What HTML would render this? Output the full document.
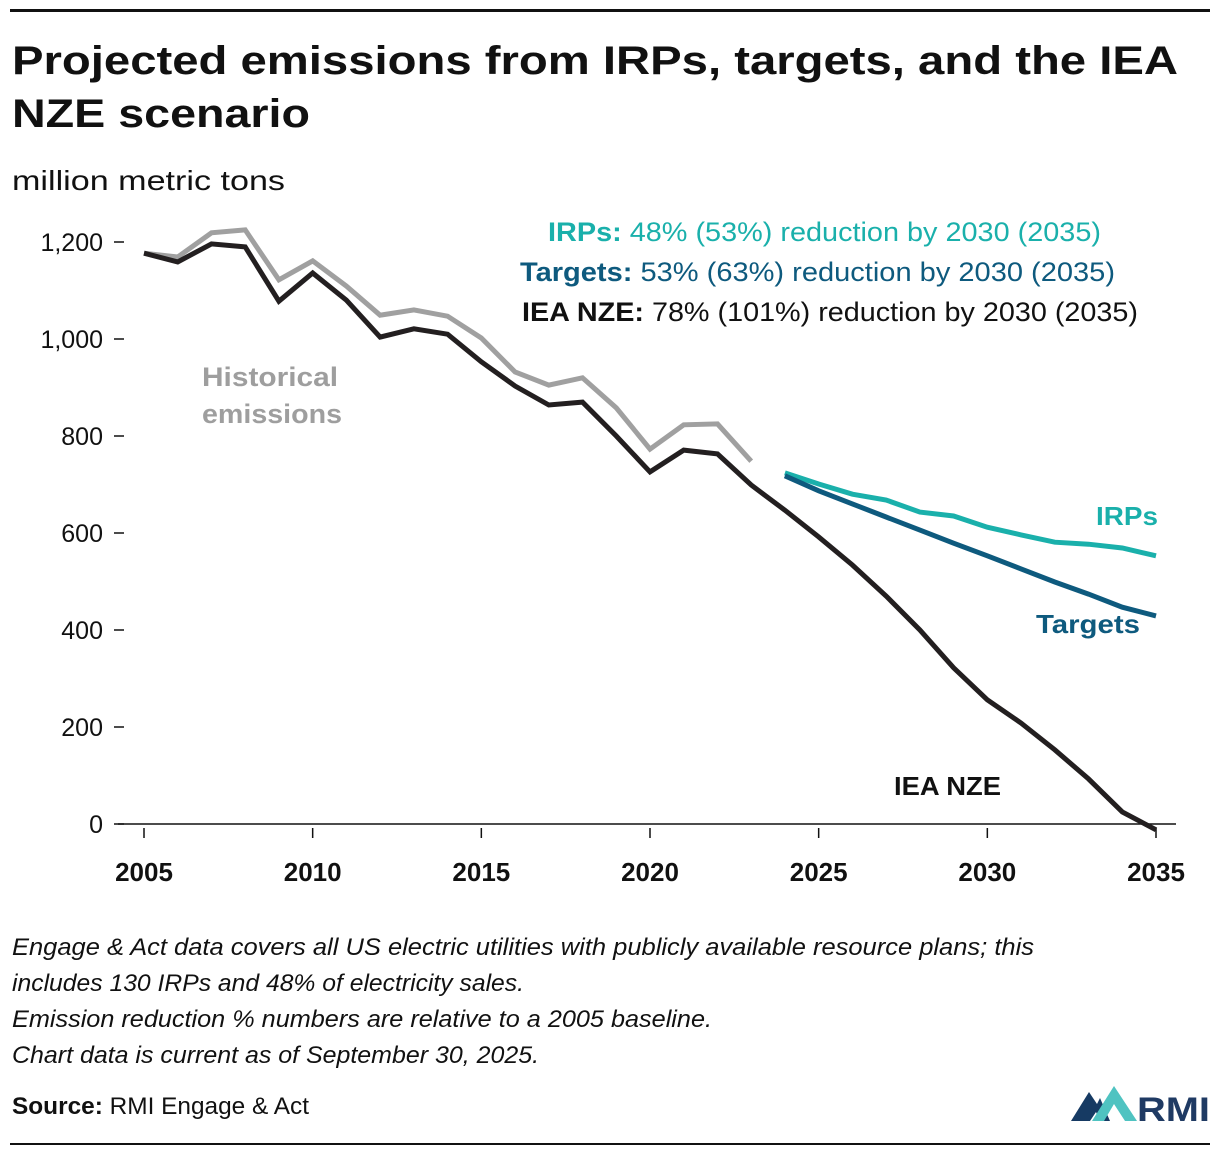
<!DOCTYPE html>
<html><head><meta charset="utf-8"><style>
body{margin:0;background:#fff;}
svg{display:block;font-family:"Liberation Sans",sans-serif;}
</style></head><body>
<svg width="1220" height="1156" viewBox="0 0 1220 1156">
<rect x="10" y="9" width="1200" height="3" fill="#111"/>
<text x="12" y="74" font-size="40" font-weight="bold" fill="#111" textLength="1166" lengthAdjust="spacingAndGlyphs">Projected emissions from IRPs, targets, and the IEA</text>
<text x="12" y="127" font-size="40" font-weight="bold" fill="#111" textLength="298" lengthAdjust="spacingAndGlyphs">NZE scenario</text>
<text x="12" y="190" font-size="28" fill="#111" textLength="273" lengthAdjust="spacingAndGlyphs">million metric tons</text>
<g id="axes"></g>
<g id="series"></g>
<text x="548" y="241" font-size="27" fill="#1ab0ab" textLength="553" lengthAdjust="spacingAndGlyphs"><tspan font-weight="bold">IRPs:</tspan> 48% (53%) reduction by 2030 (2035)</text>
<text x="520" y="281" font-size="27" fill="#0e5a7e" textLength="595" lengthAdjust="spacingAndGlyphs"><tspan font-weight="bold">Targets:</tspan> 53% (63%) reduction by 2030 (2035)</text>
<text x="522" y="321" font-size="27" fill="#111" textLength="616" lengthAdjust="spacingAndGlyphs"><tspan font-weight="bold">IEA NZE:</tspan> 78% (101%) reduction by 2030 (2035)</text>
<text x="202" y="386" font-size="27" font-weight="bold" fill="#9e9e9e" textLength="136" lengthAdjust="spacingAndGlyphs">Historical</text>
<text x="202" y="423" font-size="27" font-weight="bold" fill="#9e9e9e" textLength="140" lengthAdjust="spacingAndGlyphs">emissions</text>
<text x="1096" y="525" font-size="26" font-weight="bold" fill="#1ab0ab" textLength="62" lengthAdjust="spacingAndGlyphs">IRPs</text>
<text x="1036" y="633" font-size="26" font-weight="bold" fill="#0e5a7e" textLength="104" lengthAdjust="spacingAndGlyphs">Targets</text>
<text x="894" y="795" font-size="26" font-weight="bold" fill="#111" textLength="107" lengthAdjust="spacingAndGlyphs">IEA NZE</text>
<g font-size="24" font-style="italic" fill="#111">
<text x="12" y="955" textLength="1022" lengthAdjust="spacingAndGlyphs">Engage &amp; Act data covers all US electric utilities with publicly available resource plans; this</text>
<text x="12" y="991" textLength="512" lengthAdjust="spacingAndGlyphs">includes 130 IRPs and 48% of electricity sales.</text>
<text x="12" y="1027" textLength="700" lengthAdjust="spacingAndGlyphs">Emission reduction % numbers are relative to a 2005 baseline.</text>
<text x="12" y="1063" textLength="527" lengthAdjust="spacingAndGlyphs">Chart data is current as of September 30, 2025.</text>
</g>
<text x="12" y="1114" font-size="24" fill="#111" textLength="297" lengthAdjust="spacingAndGlyphs"><tspan font-weight="bold">Source:</tspan> RMI Engage &amp; Act</text>
<g>
<polygon points="1071,1121 1089,1092 1097,1104 1100,1098 1110,1121 1100,1121 1096,1112 1090,1121" fill="#163a63"/>
<polygon points="1092,1121 1114,1086 1137,1121 1125,1121 1114,1104 1104,1121" fill="#4fc3c1"/>
<text x="1137" y="1121" font-size="34" font-weight="bold" fill="#1f3a63" textLength="73" lengthAdjust="spacingAndGlyphs">RMI</text>
</g>
<rect x="10" y="1143" width="1200" height="2" fill="#111"/>
</svg>
<script>
const years=[2005,2006,2007,2008,2009,2010,2011,2012,2013,2014,2015,2016,2017,2018,2019,2020,2021,2022,2023,2024,2025,2026,2027,2028,2029,2030,2031,2032,2033,2034,2035];
const historical=[1177,1169,1219,1225,1122,1161,1109,1049,1060,1047,1002,932,905,920,858,773,823,825,748];
const ieaNze=[1177,1159,1196,1190,1078,1136,1080,1004,1021,1010,953,903,864,870,800,726,771,763,699,647,592,534,470,400,322,256,208,153,93,25,-12];
const projYears=[2024,2025,2026,2027,2028,2029,2030,2031,2032,2033,2034,2035];
const irps=[724,701,680,668,643,635,612,596,581,577,569,553];
const targets=[718,687,660,633,606,579,553,526,499,474,447,429];
const yTicks=[0,200,400,600,800,1000,1200];
const yTickLabels=["0","200","400","600","800","1,000","1,200"];
const xTicks=[2005,2010,2015,2020,2025,2030,2035];
const NS="http://www.w3.org/2000/svg";
const X=y=>144+(y-2005)*(1012/30);
const Y=v=>824-v*0.485;
const axes=document.getElementById('axes'), ser=document.getElementById('series');
function mk(tag,attrs,parent){const e=document.createElementNS(NS,tag);for(const k in attrs)e.setAttribute(k,attrs[k]);parent.appendChild(e);return e;}
let ax=mk('line',{x1:118,x2:1176,y1:824,y2:824,stroke:'#111','stroke-width':1.5},axes);


yTicks.forEach((v,i)=>{
 const t=mk('line',{x1:114,x2:124,y1:Y(v),y2:Y(v),stroke:'#111','stroke-width':1.5},axes);
 
 
 const l=mk('text',{x:103,y:Y(v)+9,'font-size':25,'text-anchor':'end',fill:'#111'},axes);
 l.textContent=yTickLabels[i];
 
 
});
xTicks.forEach(yr=>{
 const t=mk('line',{x1:X(yr),x2:X(yr),y1:828,y2:838,stroke:'#111','stroke-width':1.5},axes);
 
 
 const l=mk('text',{x:X(yr),y:881,'font-size':26,'font-weight':'bold','text-anchor':'middle',fill:'#111'},axes);
 l.textContent=yr;
 
 
});
function line(xs,vs,color,name){
 const d=vs.map((v,i)=>(i?'L':'M')+X(xs[i]).toFixed(1)+','+Y(v).toFixed(1)).join('');
 const p=mk('path',{d:d,fill:'none',stroke:color,'stroke-width':5,'stroke-linejoin':'miter'},ser);
 
 
}
line(years,historical,'#a0a0a0','historical-line');
line(years,ieaNze,'#231f20','iea-nze-line');
line(projYears,irps,'#1ab0ab','irps-line');
line(projYears,targets,'#0e5a7e','targets-line');
</script>
</body></html>
